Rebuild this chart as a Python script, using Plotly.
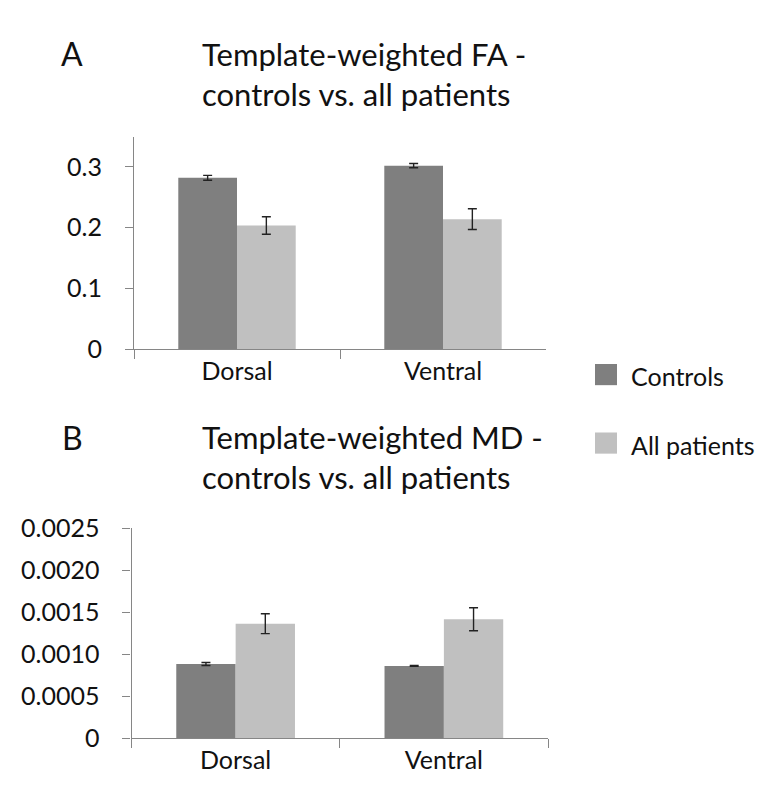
import plotly.graph_objects as go

# Data
regions = ["Dorsal", "Ventral"]

fa_controls = [0.282, 0.302]
fa_controls_err = [0.004, 0.0035]
fa_patients = [0.2035, 0.214]
fa_patients_err = [0.0145, 0.017]

md_controls = [0.000884, 0.000861]
md_controls_err = [0.000018, 0.000006]
md_patients = [0.001363, 0.001416]
md_patients_err = [0.000118, 0.000137]

fa_ticks = [0, 0.1, 0.2, 0.3]
fa_tick_text = ["0", "0.1", "0.2", "0.3"]
md_ticks = [0, 0.0005, 0.0010, 0.0015, 0.0020, 0.0025]
md_tick_text = ["0", "0.0005", "0.0010", "0.0015", "0.0020", "0.0025"]

series_names = ["Controls", "All patients"]
colors = ["#7f7f7f", "#c0c0c0"]

# page is 773x802; the body keeps its default 8px margin, so the figure
# itself is made smaller to fit without scrollbars
OFF = 8
W, H = 773 - 2 * OFF, 802 - 2 * OFF
FONT = "Lato"
AXIS_COLOR = "#868686"


def px(x):
    # page pixel -> paper fraction
    return (x - OFF) / W


def py(y):
    return 1 - (y - OFF) / H


fig = go.Figure()

err_style = dict(type="data", color="#222222", thickness=1.4, width=4.5)

panels = [
    ("x", "y", fa_controls, fa_controls_err, fa_patients, fa_patients_err),
    ("x2", "y2", md_controls, md_controls_err, md_patients, md_patients_err),
]
for xa, ya, c, ce, p, pe in panels:
    fig.add_trace(go.Bar(x=regions, y=c, name=series_names[0], marker_color=colors[0],
                         marker_line_width=0, error_y=dict(array=ce, **err_style),
                         xaxis=xa, yaxis=ya, showlegend=False))
    fig.add_trace(go.Bar(x=regions, y=p, name=series_names[1], marker_color=colors[1],
                         marker_line_width=0, error_y=dict(array=pe, **err_style),
                         xaxis=xa, yaxis=ya, showlegend=False))

xaxis_common = dict(
    showline=True, linecolor=AXIS_COLOR, linewidth=1.2, ticks="outside",
    tickson="boundaries", ticklen=9, tickcolor=AXIS_COLOR, showgrid=False,
    zeroline=False, tickfont=dict(family=FONT, size=25, color="#111111"),
)
yaxis_common = dict(
    showline=True, linecolor=AXIS_COLOR, linewidth=1.2, ticks="outside",
    ticklen=8, tickcolor=AXIS_COLOR, showgrid=False, zeroline=False,
    tickfont=dict(family=FONT, size=25, color="#111111"), ticklabelstandoff=18,
)

fig.update_layout(
    width=W, height=H,
    margin=dict(l=0, r=0, t=0, b=0),
    paper_bgcolor="white", plot_bgcolor="white",
    barmode="group", bargap=0.43, bargroupgap=0,
    xaxis=dict(domain=[px(134), px(546)], anchor="y", **xaxis_common),
    yaxis=dict(domain=[py(346), py(125)], anchor="x", range=[0, 0.35],
               tickvals=fa_ticks, ticktext=fa_tick_text, **yaxis_common),
    xaxis2=dict(domain=[px(131.5), px(548)], anchor="y2", **xaxis_common),
    yaxis2=dict(domain=[py(750.7), py(532)], anchor="x2", range=[0, 0.0025],
                tickvals=md_ticks, ticktext=md_tick_text, **yaxis_common),
)

# Panel letters and titles
for letter, ly, title, ty in [
    ("A", 39, "Template-weighted FA -<br>controls vs. all patients", 59.5),
    ("B", 437.5, "Template-weighted MD -<br>controls vs. all patients", 458),
]:
    fig.add_annotation(text=letter, x=px(72), y=py(ly), xref="paper", yref="paper",
                       showarrow=False, xanchor="center", yanchor="middle",
                       font=dict(family=FONT, size=32, color="#111111"))
    fig.add_annotation(text=title, x=px(200), y=py(ty), xref="paper", yref="paper",
                       showarrow=False, xanchor="left", yanchor="middle", align="left",
                       font=dict(family=FONT, size=31, color="#111111"))

# Legend (Excel-style, outside the plots)
for name, col, cy, ty in [(series_names[0], colors[0], 372.5, 374),
                          (series_names[1], colors[1], 443.7, 445.5)]:
    fig.add_shape(type="rect", xref="paper", yref="paper",
                  x0=px(595), x1=px(617), y0=py(cy + 11), y1=py(cy - 11),
                  fillcolor=col, line_width=0)
    fig.add_annotation(text=name, x=px(629), y=py(ty), xref="paper", yref="paper",
                       showarrow=False, xanchor="left", yanchor="middle",
                       font=dict(family=FONT, size=25, color="#111111"))

fig.write_html("out.html")
